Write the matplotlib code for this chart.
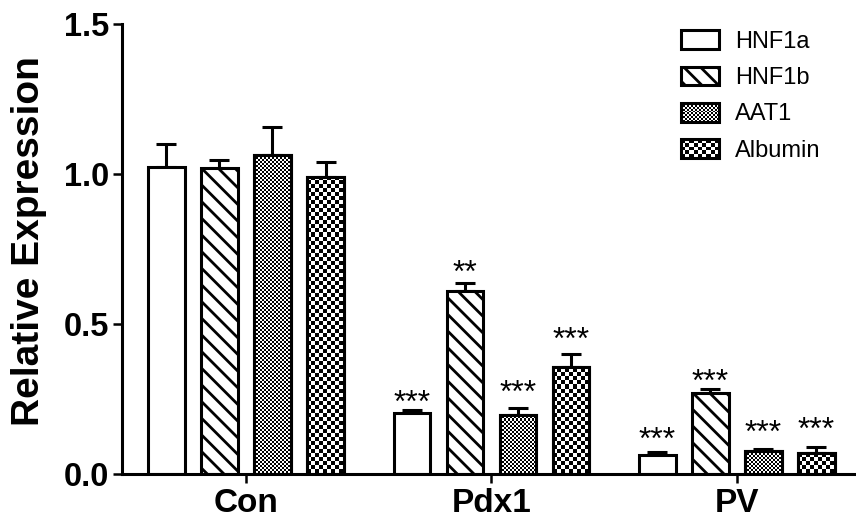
import numpy as np
import matplotlib
matplotlib.use('Agg')
import matplotlib.pyplot as plt
from matplotlib.legend_handler import HandlerBase
from matplotlib.image import BboxImage
from matplotlib.transforms import Bbox, TransformedBbox
from matplotlib.patches import Rectangle

plt.rcParams['font.family'] = ['Liberation Sans', 'DejaVu Sans']
plt.rcParams['hatch.linewidth'] = 2.0

# 数据
groups = ['Con', 'Pdx1', 'PV']
genes = ['HNF1a', 'HNF1b', 'AAT1', 'Albumin']
hnf1a = [1.022, 0.201, 0.062]
hnf1a_err = [0.077, 0.010, 0.009]
hnf1b = [1.019, 0.610, 0.268]
hnf1b_err = [0.028, 0.025, 0.013]
aat1 = [1.063, 0.195, 0.076]
aat1_err = [0.094, 0.025, 0.005]
albumin = [0.989, 0.355, 0.069]
albumin_err = [0.049, 0.043, 0.020]
stars = [['', '***', '***'], ['', '**', '***'], ['', '***', '***'], ['', '***', '***']]
# 星号中心距误差线顶端的距离（像素）
star_gap = [[0, 17, 22], [0, 20, 17], [0, 24, 26], [0, 24, 26]]

values = [hnf1a, hnf1b, aat1, albumin]
errors = [hnf1a_err, hnf1b_err, aat1_err, albumin_err]
hatches = [None, '\\\\', None, None]
checker_cell = [None, None, 2, 4]  # 棋盘格像素大小

LW = 2.2
STAR_FS = 23
W, H = 856, 521
fig = plt.figure(figsize=(W / 100, H / 100), dpi=100)
ax = fig.add_axes([122 / W, (H - 473.5) / H, (W - 122) / W, 449.5 / H])
ax.set_xlim(-0.505, 2.485)
ax.set_ylim(0, 1.5)

px_x = ax.transData.transform((1, 0))[0] - ax.transData.transform((0, 0))[0]
px_y = ax.transData.transform((0, 1))[1] - ax.transData.transform((0, 0))[1]


def checker(nr, nc):
    i, j = np.indices((nr, nc))
    return ((i + j) % 2).astype(float)


x = np.arange(len(groups))
width = 0.15
step = 0.216
for k in range(len(genes)):
    xs = x + (k - 1.5) * step
    ax.errorbar(xs, values[k], yerr=[np.zeros(3), errors[k]], fmt='none',
                ecolor='black', elinewidth=LW, capsize=7, capthick=LW, zorder=1)
    bars = ax.bar(xs, values[k], width, color='white', edgecolor='black',
                  hatch=hatches[k], linewidth=LW, zorder=2)
    if checker_cell[k]:
        c = checker_cell[k]
        for b in bars:
            x0 = b.get_x()
            nc = int(np.ceil(b.get_width() * px_x / c)) + 1
            nr = int(np.ceil(b.get_height() * px_y / c)) + 1
            im = ax.imshow(checker(nr, nc), cmap='gray', vmin=0, vmax=1,
                           interpolation='nearest', aspect='auto', origin='lower',
                           extent=(x0, x0 + nc * c / px_x, 0, nr * c / px_y), zorder=2.5)
            im.set_clip_path(b)
        ax.bar(xs, values[k], width, fill=False, edgecolor='black', linewidth=LW, zorder=3)
    for xi, v, e, s, g in zip(xs, values[k], errors[k], stars[k], star_gap[k]):
        if s:
            # 星号字形中心约在基线上方 0.58em
            dy = g * 0.72 - 0.58 * STAR_FS
            ax.annotate(s, (xi, v + e), xytext=(0, dy), textcoords='offset points',
                        ha='center', va='baseline', fontsize=STAR_FS)

ax.set_xlim(-0.505, 2.485)
ax.set_ylim(0, 1.5)

ax.spines['top'].set_visible(False)
ax.spines['right'].set_visible(False)
ax.spines['left'].set_linewidth(LW)
ax.spines['bottom'].set_linewidth(LW)
ax.set_yticks([0.0, 0.5, 1.0, 1.5])
ax.set_yticklabels(['0.0', '0.5', '1.0', '1.5'], fontsize=23.5, fontweight='bold')
ax.set_xticks(x)
ax.set_xticklabels(groups, fontsize=24, fontweight='bold')
ax.tick_params(axis='both', direction='out', width=1.8, length=6.5)
ax.tick_params(axis='y', pad=3)
ax.tick_params(axis='x', pad=4)
ax.set_ylabel('Relative Expression', fontsize=28, fontweight='bold')
ax.yaxis.set_label_coords(-0.102, 0.516)


class HandlerChecker(HandlerBase):
    def __init__(self, cell):
        super().__init__()
        self.cell = cell

    def create_artists(self, legend, orig_handle, xdescent, ydescent,
                       width, height, fontsize, trans):
        bb = TransformedBbox(Bbox.from_bounds(-xdescent, -ydescent, width, height), trans)
        img = BboxImage(bb, cmap='gray', norm=plt.Normalize(0, 1), interpolation='nearest')
        img.set_data(checker(int(20 / self.cell), int(38 / self.cell)))
        rect = Rectangle((-xdescent, -ydescent), width, height, facecolor='none',
                         edgecolor='black', linewidth=LW, transform=trans)
        return [img, rect]


handles = []
hmap = {}
for k, g in enumerate(genes):
    h = Rectangle((0, 0), 1, 1, facecolor='white', edgecolor='black',
                  hatch=hatches[k], linewidth=LW, label=g)
    handles.append(h)
    if checker_cell[k]:
        hmap[h] = HandlerChecker(checker_cell[k])

ax.legend(handles=handles, handler_map=hmap, loc='upper left',
          bbox_to_anchor=(0.7616, 0.986), frameon=False, fontsize=17,
          handlelength=1.6, handleheight=0.85, labelspacing=0.58, handletextpad=0.68,
          borderpad=0, borderaxespad=0)

fig.savefig('out.png', dpi=100)
